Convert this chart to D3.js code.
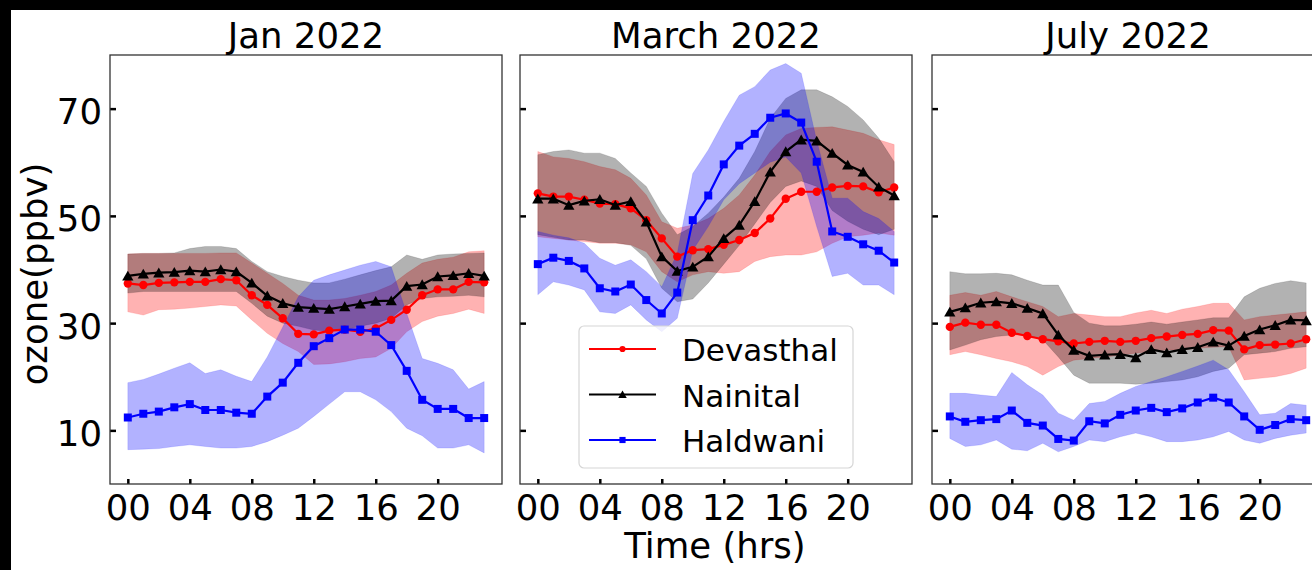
<!DOCTYPE html>
<html>
<head>
<meta charset="utf-8">
<script src="https://cdn.jsdelivr.net/npm/d3@7"></script>
<style>
  html, body { margin: 0; padding: 0; background: #ffffff; }
  svg { display: block; font-family: "DejaVu Sans", sans-serif; }
</style>
</head>
<body>
<svg id="chart" width="1312" height="570"></svg>
<script>
// Hour of day (local time)
const hours = d3.range(0, 24);
const hourTicks = [0, 4, 8, 12, 16, 20];
const ozoneTicks = [10, 30, 50, 70];
const panelTitles = ["Jan 2022", "March 2022", "July 2022"];
const stations = ["Devasthal", "Nainital", "Haldwani"];

// ---- January 2022 : mean and ±1σ band (ppbv) ----
const janDevMean = [37.4,37.1,37.5,37.6,37.7,37.7,38.2,38.0,35.2,33.4,30.9,28.0,27.9,28.6,28.8,28.4,29.0,30.6,32.5,35.2,36.3,36.3,37.7,37.6];
const janDevHi   = [42.9,43.0,43.0,43.0,43.0,43.0,43.1,43.1,41.2,39.3,37.4,35.2,34.3,34.3,34.6,35.2,35.9,37.1,39.3,41.2,41.9,42.3,43.3,43.5];
const janDevLo   = [32.1,31.5,32.5,32.6,32.8,33.1,33.4,33.2,30.6,28.1,26.2,24.7,22.3,22.4,22.8,23.4,23.7,25.3,28.4,30.3,31.3,31.8,32.6,31.8];
const janNaiMean = [38.8,39.2,39.4,39.5,39.8,39.6,40.0,39.6,37.5,35.1,33.7,33.0,32.8,32.6,33.1,33.6,34.1,34.2,36.9,37.2,38.7,38.9,39.3,38.8];
const janNaiHi   = [42.9,43.0,43.0,43.1,43.9,44.3,44.3,43.9,41.5,39.6,38.7,38.0,37.5,37.5,38.2,39.0,39.8,40.5,42.7,41.9,42.7,42.9,43.0,43.1];
const janNaiLo   = [35.6,35.9,35.9,35.9,35.9,35.9,35.9,35.9,33.7,31.3,30.0,29.4,28.7,28.5,28.7,29.4,30.0,30.9,33.4,34.6,34.9,35.0,35.2,34.9];
const janHalMean = [12.4,13.1,13.5,14.3,14.9,13.8,13.8,13.3,13.1,16.3,18.9,22.6,25.7,27.2,28.8,28.8,28.4,25.9,21.1,15.7,14.0,14.0,12.3,12.3];
const janHalHi   = [18.9,19.5,20.5,21.6,22.6,20.6,21.3,20.1,19.1,23.7,29.3,34.9,38.0,39.0,39.9,40.8,41.5,40.5,31.8,23.4,22.5,21.3,17.7,19.1];
const janHalLo   = [6.4,6.5,6.6,7.0,7.3,7.0,6.7,6.7,7.0,7.9,9.1,10.4,12.6,14.9,17.2,17.2,15.7,13.5,10.4,9.0,6.7,6.7,7.3,5.8];

// ---- March 2022 ----
const marDevMean = [54.2,53.6,53.6,53.0,52.3,52.2,51.4,49.2,45.8,42.4,43.6,43.8,44.6,45.5,46.8,49.5,53.2,54.5,54.5,55.3,55.6,55.5,54.4,55.3];
const marDevHi   = [62.0,61.0,60.7,60.1,59.2,58.6,57.0,53.9,48.9,47.7,48.3,49.5,51.4,53.9,57.6,62.0,65.1,66.3,66.5,66.6,66.0,65.4,64.2,63.3];
const marDevLo   = [46.1,45.8,45.5,45.2,44.9,44.9,44.6,43.3,39.6,37.7,39.0,39.6,39.3,39.6,41.5,42.4,42.7,42.7,43.3,44.9,46.1,46.4,46.8,46.4];
const marNaiMean = [53.2,53.2,52.0,52.8,53.1,52.0,52.7,48.9,42.4,39.7,40.5,42.4,45.8,48.3,52.7,58.2,62.0,64.2,64.0,61.7,59.5,58.2,55.4,53.8];
const marNaiHi   = [61.4,62.0,62.3,61.7,61.7,60.7,58.0,55.5,50.5,46.5,48.0,50.5,53.5,57.0,62.0,68.2,71.9,73.5,73.5,72.2,70.4,67.9,64.5,60.1];
const marNaiLo   = [46.5,46.0,45.5,45.5,45.0,45.0,44.5,42.0,36.5,34.0,34.5,37.5,41.0,44.5,48.5,52.5,55.5,56.5,55.5,51.0,49.0,47.5,46.5,47.5];
const marHalMean = [41.0,42.2,41.6,40.2,36.5,35.9,37.2,34.3,31.8,35.7,49.2,53.8,59.6,63.1,65.3,68.3,69.1,67.4,60.1,47.1,46.1,44.7,43.5,41.3];
const marHalHi   = [47.1,46.4,45.9,44.9,42.1,40.8,41.8,39.6,36.8,43.0,57.9,62.3,67.6,72.5,74.1,77.2,78.4,76.6,64.0,53.3,53.3,50.8,49.5,47.1];
const marHalLo   = [35.3,37.7,37.1,36.2,32.1,31.8,33.4,30.6,28.4,30.9,43.6,48.0,53.0,56.0,58.0,60.0,61.0,58.0,48.0,38.7,39.3,37.1,37.1,35.3];

// ---- July 2022 ----
const julDevMean = [29.3,30.1,29.7,29.7,28.2,27.6,27.0,26.6,26.2,26.5,26.7,26.5,26.7,27.2,27.5,27.8,28.0,28.7,28.6,25.1,25.9,26.0,26.2,27.0];
const julDevHi   = [35.2,35.7,35.2,35.9,34.9,34.0,33.1,31.2,31.8,31.5,31.2,31.2,31.9,32.4,31.8,32.6,33.1,33.7,33.7,30.6,31.2,31.5,31.8,32.1];
const julDevLo   = [24.1,24.7,24.1,23.4,22.8,21.9,20.3,21.9,23.1,23.4,23.7,24.0,24.4,24.7,25.0,25.0,25.3,25.5,25.6,19.4,19.7,20.0,20.6,21.6];
const julNaiMean = [32.1,32.9,33.8,34.0,33.7,32.8,31.8,27.8,25.0,23.9,24.1,24.2,23.6,25.1,24.5,25.1,25.5,26.5,25.8,27.6,28.8,29.6,30.6,30.5];
const julNaiHi   = [39.6,39.2,39.2,39.3,39.0,38.0,37.1,37.1,32.0,30.0,29.5,29.5,29.8,30.2,29.8,30.2,30.6,31.0,31.0,34.9,36.5,37.4,37.9,37.5];
const julNaiLo   = [25.0,25.9,26.9,27.5,27.8,27.8,26.9,23.7,20.3,18.8,18.8,18.8,18.6,18.8,19.1,19.4,20.0,21.0,21.6,24.1,24.4,24.7,25.3,25.6];
const julHalMean = [12.6,11.6,11.9,12.1,13.7,11.4,10.9,8.4,8.1,11.7,11.3,12.9,13.7,14.2,13.4,14.1,15.2,16.1,15.2,12.6,10.1,11.0,12.1,11.9];
const julHalHi   = [16.9,16.9,16.6,16.3,20.8,18.5,16.6,13.2,11.9,15.0,15.4,16.9,18.2,19.1,20.0,21.0,22.0,23.1,21.3,17.2,12.9,13.2,15.0,14.7];
const julHalLo   = [8.5,7.0,7.3,8.2,6.5,6.2,7.6,6.0,7.0,8.2,7.9,8.8,9.5,8.8,7.9,7.9,8.2,8.8,9.8,8.2,7.6,8.5,9.1,9.5];

// Station styling
const stationColor = { Devasthal: "#ff0000", Nainital: "#000000", Haldwani: "#0000ff" };

// Marker shapes
const triangleUp = {
  draw(ctx, size) {
    const s = Math.sqrt(size);
    ctx.moveTo(0, -s * 0.55);
    ctx.lineTo(s * 0.6, s * 0.5);
    ctx.lineTo(-s * 0.6, s * 0.5);
    ctx.closePath();
  }
};
const stationSymbol = { Devasthal: d3.symbolCircle, Nainital: triangleUp, Haldwani: d3.symbolSquare };
const markerSize = { Devasthal: 55, Nainital: 88, Haldwani: 64 };
const legendMarkerSize = { Devasthal: 30, Nainital: 50, Haldwani: 38 };

const panels = [
  { title: panelTitles[0], series: [
      { name: "Devasthal", mean: janDevMean, lo: janDevLo, hi: janDevHi },
      { name: "Nainital",  mean: janNaiMean, lo: janNaiLo, hi: janNaiHi },
      { name: "Haldwani",  mean: janHalMean, lo: janHalLo, hi: janHalHi } ] },
  { title: panelTitles[1], series: [
      { name: "Devasthal", mean: marDevMean, lo: marDevLo, hi: marDevHi },
      { name: "Nainital",  mean: marNaiMean, lo: marNaiLo, hi: marNaiHi },
      { name: "Haldwani",  mean: marHalMean, lo: marHalLo, hi: marHalHi } ] },
  { title: panelTitles[2], series: [
      { name: "Devasthal", mean: julDevMean, lo: julDevLo, hi: julDevHi },
      { name: "Nainital",  mean: julNaiMean, lo: julNaiLo, hi: julNaiHi },
      { name: "Haldwani",  mean: julHalMean, lo: julHalLo, hi: julHalHi } ] }
];

// Layout
const W = 1312, H = 570;
const panelLeft = [110, 520, 932];
const panelWidth = 392;
const plotTop = 55, plotBottom = 484;
const FONT = 35.5;

const svg = d3.select("#chart");
svg.append("rect").attr("width", W).attr("height", H).attr("fill", "#ffffff");

const y = d3.scaleLinear().domain([0, 80]).range([plotBottom, plotTop]);

panels.forEach((p, i) => {
  const x0 = panelLeft[i];
  const x = d3.scaleLinear().domain([-1.15, 24.15]).range([x0, x0 + panelWidth]);
  const g = svg.append("g");

  // shaded variability bands
  const area = d3.area()
    .x((d, k) => x(hours[k]))
    .y0(d => y(d.lo))
    .y1(d => y(d.hi));
  p.series.forEach(s => {
    const rows = hours.map((h, k) => ({ lo: s.lo[k], hi: s.hi[k] }));
    g.append("path")
      .attr("d", area(rows))
      .attr("fill", stationColor[s.name])
      .attr("fill-opacity", 0.3)
      .attr("stroke", stationColor[s.name])
      .attr("stroke-opacity", 0.12)
      .attr("stroke-width", 1);
  });

  // mean diurnal lines with markers
  const line = d3.line().x((d, k) => x(hours[k])).y(d => y(d));
  p.series.forEach(s => {
    g.append("path")
      .attr("d", line(s.mean))
      .attr("fill", "none")
      .attr("stroke", stationColor[s.name])
      .attr("stroke-width", 2.2);
    const sym = d3.symbol().type(stationSymbol[s.name]).size(markerSize[s.name]);
    g.selectAll(null)
      .data(s.mean)
      .join("path")
      .attr("transform", (d, k) => `translate(${x(hours[k])},${y(d)})`)
      .attr("d", sym)
      .attr("fill", stationColor[s.name]);
  });

  // axes with inward ticks
  const xAxis = d3.axisBottom(x)
    .tickValues(hourTicks)
    .tickFormat(d3.format("02d"))
    .tickSizeInner(-5)
    .tickSizeOuter(0)
    .tickPadding(11);
  const gx = svg.append("g").attr("transform", `translate(0,${plotBottom})`).call(xAxis);
  gx.select(".domain").remove();
  gx.selectAll(".tick line").attr("stroke", "#000").attr("stroke-width", 2.5);
  gx.selectAll(".tick text")
    .attr("font-size", FONT)
    .attr("font-family", "DejaVu Sans")
    .attr("fill", "#000");

  const yAxis = d3.axisLeft(y)
    .tickValues(ozoneTicks)
    .tickSizeInner(-6)
    .tickSizeOuter(0)
    .tickPadding(8)
    .tickFormat(i === 0 ? d3.format("d") : () => "");
  const gy = svg.append("g").attr("transform", `translate(${x0},0)`).call(yAxis);
  gy.select(".domain").remove();
  gy.selectAll(".tick line").attr("stroke", "#000").attr("stroke-width", 2.5);
  gy.selectAll(".tick text")
    .attr("font-size", FONT)
    .attr("font-family", "DejaVu Sans")
    .attr("dy", "0.42em")
    .attr("fill", "#000");

  // frame
  svg.append("rect")
    .attr("x", x0).attr("y", plotTop)
    .attr("width", panelWidth).attr("height", plotBottom - plotTop)
    .attr("fill", "none")
    .attr("stroke", "#333")
    .attr("stroke-width", 1.3);

  // panel title
  svg.append("text")
    .attr("x", x0 + panelWidth / 2)
    .attr("y", 48)
    .attr("text-anchor", "middle")
    .attr("font-size", FONT)
    .attr("fill", "#000")
    .text(p.title);
});

// axis titles
svg.append("text")
  .attr("transform", "translate(47,274) rotate(-90)")
  .attr("text-anchor", "middle")
  .attr("font-size", FONT)
  .attr("fill", "#000")
  .text("ozone(ppbv)");

svg.append("text")
  .attr("x", 715)
  .attr("y", 558)
  .attr("text-anchor", "middle")
  .attr("font-size", FONT)
  .attr("fill", "#000")
  .text("Time (hrs)");

// legend in the middle panel
const legend = svg.append("g").attr("transform", "translate(579,326)");
legend.append("rect")
  .attr("width", 274).attr("height", 142)
  .attr("rx", 5)
  .attr("fill", "#ffffff").attr("fill-opacity", 0.8)
  .attr("stroke", "#d6d6d6").attr("stroke-width", 1.2);
stations.forEach((name, k) => {
  const cy = 23 + k * 45.5;
  const row = legend.append("g").attr("transform", `translate(0,${cy})`);
  row.append("line")
    .attr("x1", 10).attr("x2", 77)
    .attr("stroke", stationColor[name]).attr("stroke-width", 2.2);
  row.append("path")
    .attr("transform", "translate(43.5,0)")
    .attr("d", d3.symbol().type(stationSymbol[name]).size(legendMarkerSize[name]))
    .attr("fill", stationColor[name]);
  row.append("text")
    .attr("x", 103).attr("y", 12)
    .attr("font-size", 31)
    .attr("fill", "#000")
    .text(name);
});

// dark border strips along the top and left edges
svg.append("rect").attr("x", 0).attr("y", 0).attr("width", W).attr("height", 10).attr("fill", "#000");
svg.append("rect").attr("x", 0).attr("y", 0).attr("width", 11).attr("height", H).attr("fill", "#000");
</script>
</body>
</html>
